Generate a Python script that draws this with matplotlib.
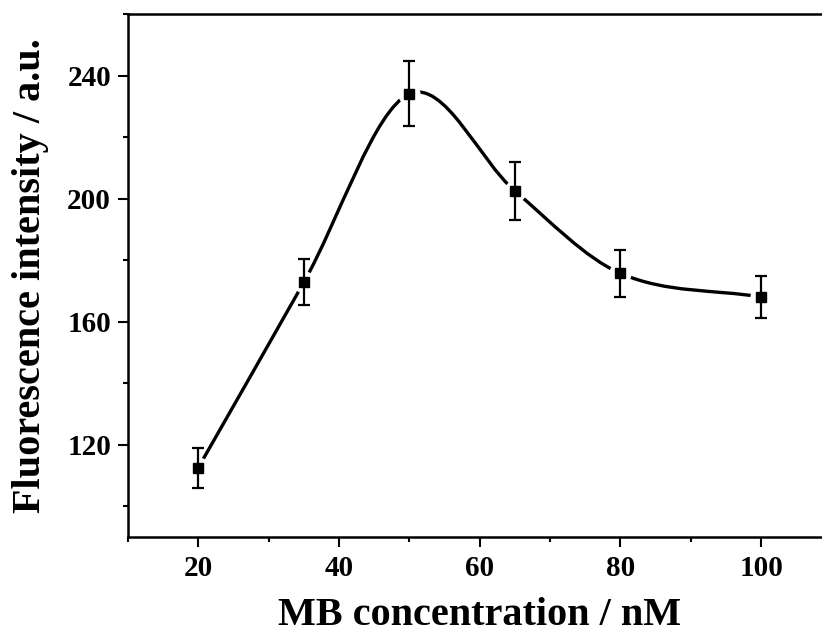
import numpy as np
import matplotlib
matplotlib.use("Agg")
import matplotlib.pyplot as plt
from matplotlib.path import Path
from matplotlib.patches import PathPatch

plt.rcParams['font.family'] = ['Liberation Serif', 'DejaVu Serif']
plt.rcParams['font.weight'] = 'bold'

# data
conc = [20, 35, 50, 65, 80, 100]
intensity = [112.5, 172.8, 234.1, 202.5, 175.7, 168.0]
err = [6.5, 7.5, 10.6, 9.3, 7.6, 6.9]

fig = plt.figure(figsize=(8.22, 6.35), dpi=100)
ax = fig.add_axes([0.1557, 0.1548, 0.8558, 0.8227])

# smooth line through the points, as cubic bezier segments
x = np.array(conc, dtype=float)
y = np.array(intensity, dtype=float)
m = np.zeros(len(x))
m[1:-1] = (y[2:] - y[:-2]) / (x[2:] - x[:-2])
m[0] = (y[1] - y[0]) / (x[1] - x[0])
m[-1] = (y[-1] - y[-2]) / (x[-1] - x[-2])

verts = [(x[0], y[0])]
codes = [Path.MOVETO]
for i in range(len(x) - 1):
    h = x[i + 1] - x[i]
    verts += [(x[i] + h / 3, y[i] + m[i] * h / 3),
              (x[i + 1] - h / 3, y[i + 1] - m[i + 1] * h / 3),
              (x[i + 1], y[i + 1])]
    codes += [Path.CURVE4] * 3
ax.add_patch(PathPatch(Path(verts, codes), facecolor='none',
                       edgecolor='black', lw=2.4, zorder=2))

# white gaps round the points, like Origin does
ax.plot(conc, intensity, 'o', color='white', markersize=15, zorder=3)

ax.errorbar(conc, intensity, yerr=err, fmt='s', color='black',
            markersize=7, elinewidth=1.6, capsize=4.5, capthick=1.6,
            zorder=4)

ax.set_xlim(10, 110)
ax.set_ylim(90, 260)
ax.set_xticks([20, 40, 60, 80, 100])
ax.set_xticks([10, 30, 50, 70, 90, 110], minor=True)
ax.set_yticks([120, 160, 200, 240])
ax.set_yticks([100, 140, 180, 220, 260], minor=True)

for s in ['left', 'bottom', 'top']:
    ax.spines[s].set_linewidth(1.8)
ax.spines['right'].set_visible(False)

ax.tick_params(which='major', direction='out', length=7.2, width=1.5,
               labelsize=21, pad=5)
ax.tick_params(which='minor', direction='out', length=3.6, width=1.5)
ax.tick_params(axis='x', which='major', pad=6)
for lab in ax.get_xticklabels() + ax.get_yticklabels():
    lab.set_fontweight('bold')

ax.set_xlabel('MB concentration / nM', fontsize=29, fontweight='bold',
              labelpad=11)
ax.set_ylabel('Fluorescence intensity / a.u.', fontsize=29,
              fontweight='bold', labelpad=13)

fig.savefig('out.png', dpi=100)
